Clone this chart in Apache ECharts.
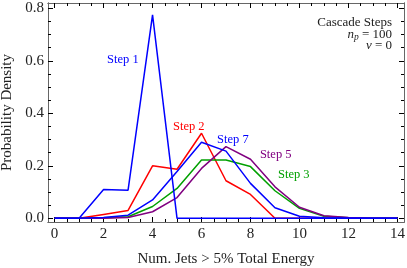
<!DOCTYPE html>
<html>
<head>
<meta charset="utf-8">
<script src="https://cdn.jsdelivr.net/npm/echarts@6/dist/echarts.min.js"></script>
<style>html,body{margin:0;padding:0;background:#fff}#c{width:407px;height:268px}</style>
</head>
<body>
<div id="c"></div>
<script>
var xValues = [0,1,2,3,4,5,6,7,8,9,10,11,12,13,14];
var step1 = [0,0,0.11,0.107,0.775,0,0,0,0,0,0,0,0,0,0];
var step2 = [0,0,0.015,0.03,0.2,0.187,0.324,0.143,0.091,0,0,0,0,0,0];
var step3 = [0,0,0.002,0.006,0.045,0.114,0.222,0.222,0.197,0.105,0.038,0.008,0.002,0,0];
var step5 = [0,0,0,0.003,0.025,0.079,0.19,0.273,0.225,0.12,0.042,0.01,0.003,0,0];
var step7 = [0,0,0.003,0.012,0.07,0.178,0.29,0.256,0.133,0.04,0.008,0.002,0,0,0];
var xTickLabels = [0,2,4,6,8,10,12,14];
var yTickLabels = [0.0,0.2,0.4,0.6,0.8];
var seriesNames = ['Step 1','Step 2','Step 3','Step 5','Step 7'];
var seriesColors = ['#0000ff','#ff0000','#00a000','#800080','#0000ff'];
var labelPos = [[2.79,0.603],[5.48,0.348],[9.77,0.165],[9.03,0.241],[7.28,0.298]];

function range(a,b,s){var r=[];for(var v=a;v<=b+1e-9;v+=s)r.push(Math.round(v*1000)/1000);return r;}
var xMinor = range(0,14,0.5);
var yMinor = range(0,0.8,0.05);

var XMIN=-0.27, XMAX=14.27, YMIN=-0.014, YMAX=0.82;
var frame = {show:true, onZero:false, lineStyle:{color:'#666', width:1}};
var serif = 'Liberation Serif, Times New Roman, serif';

function xAx(pos, ticks, len, labels){
  return {type:'value', position:pos, min:XMIN, max:XMAX, axisLine:frame,
    splitLine:{show:false},
    axisTick:{show:true, inside:true, length:len, customValues:ticks, lineStyle:{color:'#000'}},
    axisLabel:labels?{show:true, customValues:xTickLabels, fontFamily:serif, fontSize:15, color:'#222', margin:5,
      formatter:function(v){return String(v);}}:{show:false},
    name: labels?'Num. Jets > 5% Total Energy':'', nameLocation:'middle', nameGap:30,
    nameTextStyle:{fontFamily:serif, fontSize:15, color:'#222'}};
}
function yAx(pos, ticks, len, labels){
  return {type:'value', position:pos, min:YMIN, max:YMAX, axisLine:frame,
    splitLine:{show:false},
    axisTick:{show:true, inside:true, length:len, customValues:ticks, lineStyle:{color:'#000'}},
    axisLabel:labels?{show:true, customValues:yTickLabels, fontFamily:serif, fontSize:15, color:'#222', margin:4,
      formatter:function(v){return v.toFixed(1);}}:{show:false},
    name: labels?'Probability Density':'', nameLocation:'middle', nameGap:33,
    nameTextStyle:{fontFamily:serif, fontSize:15, color:'#222'}};
}

var chart = echarts.init(document.getElementById('c'), null, {renderer:'canvas'});
var datas = [step1,step2,step3,step5,step7];
var series = datas.map(function(d,i){
  return {name:seriesNames[i], type:'line', xAxisIndex:0, yAxisIndex:0,
    data:xValues.map(function(x,j){return [x,d[j]];}),
    showSymbol:false, symbol:'none', lineStyle:{color:seriesColors[i], width:1.5}, z: i===0?5:3, animation:false};
});
chart.setOption({
  animation:false,
  grid:{left:48, right:3, top:3, bottom:46, containLabel:false, outerBoundsMode:'none'},
  xAxis:[xAx('bottom', xTickLabels, 5, true), xAx('bottom', xMinor, 3, false),
         xAx('top', xTickLabels, 5, false), xAx('top', xMinor, 3, false)],
  yAxis:[yAx('left', yTickLabels, 5, true), yAx('left', yMinor, 3, false),
         yAx('right', yTickLabels, 5, false), yAx('right', yMinor, 3, false)],
  series:series
});
var ctx = document.createElement('canvas').getContext('2d');
function tw(t, f){ctx.font=f; return ctx.measureText(t).width;}
var fN = '13px '+serif, fI = 'italic 13px '+serif, fS = 'italic 9.5px '+serif;
var g = [];
labelPos.forEach(function(p,i){
  var px = chart.convertToPixel({xAxisIndex:0, yAxisIndex:0}, p);
  g.push({type:'text', x:px[0], y:px[1], style:{text:seriesNames[i], fill:seriesColors[i],
    font:'12.5px '+serif, align:'center', verticalAlign:'middle'}});
});
var R = 392;
g.push({type:'text', x:R, y:23, style:{text:'Cascade Steps', fill:'#222', font:fN, align:'right', verticalAlign:'middle'}});
// n_p = 100
var w1 = tw(' = 100', fN), wS = tw('p', fS);
g.push({type:'text', x:R, y:34.5, style:{text:' = 100', fill:'#222', font:fN, align:'right', verticalAlign:'middle'}});
g.push({type:'text', x:R-w1, y:37, style:{text:'p', fill:'#222', font:fS, align:'right', verticalAlign:'middle'}});
g.push({type:'text', x:R-w1-wS, y:34.5, style:{text:'n', fill:'#222', font:fI, align:'right', verticalAlign:'middle'}});
// nu = 0
var w2 = tw(' = 0', fN);
g.push({type:'text', x:R, y:45.5, style:{text:' = 0', fill:'#222', font:fN, align:'right', verticalAlign:'middle'}});
g.push({type:'text', x:R-w2, y:45.5, style:{text:'ν', fill:'#222', font:fI, align:'right', verticalAlign:'middle'}});
chart.setOption({graphic:g});
</script>
</body>
</html>
